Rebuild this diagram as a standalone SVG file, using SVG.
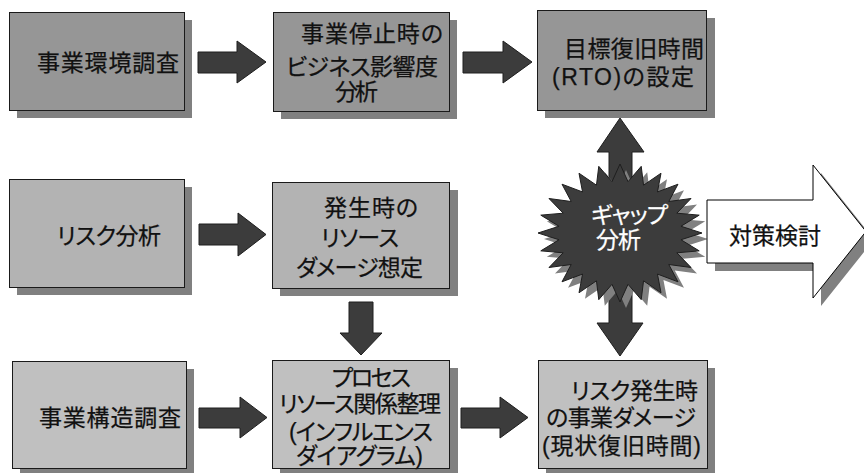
<svg xmlns="http://www.w3.org/2000/svg" width="864" height="473" viewBox="0 0 864 473">
<style>
.sh{fill:#808080}
.box{stroke:#1a1a1a;stroke-width:1}
.r1{fill:#969696}
.r2{fill:#b3b3b3}
.r3{fill:#c0c0c0}
.arr{fill:#3c3c3c;stroke:#1e1e1e;stroke-width:1}
text{font-family:"Liberation Sans","Noto Sans CJK JP",sans-serif;font-size:23px;font-weight:400;fill:#111;stroke:#111;stroke-width:0.25;font-feature-settings:"palt" 1}
.w{fill:#fff;stroke:#fff}
</style>
<defs>
<polygon id="star" points="620,164 628.03,181.69 641.22,166.35 643.54,185.19 661,173.24 657.44,191.94 677.98,184.21 668.79,201.5 691.01,198.5 676.82,213.2 699.21,215.14 680.97,226.25 702,233 680.97,239.75 699.21,250.86 676.82,252.8 691.01,267.5 668.79,264.5 677.98,281.79 657.44,274.06 661,292.76 643.54,280.81 641.22,299.65 628.03,284.31 620,302 611.97,284.31 598.78,299.65 596.46,280.81 579,292.76 582.56,274.06 562.02,281.79 571.21,264.5 548.99,267.5 563.18,252.8 540.79,250.86 559.03,239.75 538,233 559.03,226.25 540.79,215.14 563.18,213.2 548.99,198.5 571.21,201.5 562.02,184.21 582.56,191.94 579,173.24 596.46,185.19 598.78,166.35 611.97,181.69"/>
<polygon id="bigarrow" points="707,200 813,200 813,165 866,231.5 813,298 813,263 707,263"/>
</defs>

<g id="connectors">
<polygon class="arr" points="198,52 237,52 237,41 266,62 237,83 237,73 198,73"/>
<polygon class="arr" points="463,52 503,52 503,41 532,62 503,83 503,73 463,73"/>
<polygon class="arr" points="199,224 238,224 238,213 266,234.5 238,256 238,245 199,245"/>
<polygon class="arr" points="349,302 373,302 373,333 382,333 361,355 340,333 349,333"/>
<polygon class="arr" points="199,408 240,408 240,397 267,417.5 240,438 240,428 199,428"/>
<polygon class="arr" points="461,408 500,408 500,397 528,417.5 500,438 500,428 461,428"/>
<polygon class="arr" points="620,118 644,152 632,152 632,323 643,323 620,356 597,323 609,323 609,152 597,152"/>
</g>

<g id="n-kankyo">
<rect class="sh" x="17" y="20" width="175" height="98"/>
<rect class="box r1" x="9.5" y="12.5" width="175" height="98"/>
<text x="37" y="71" textLength="142" lengthAdjust="spacing">事業環境調査</text>
</g>

<g id="n-bia">
<rect class="sh" x="281" y="20" width="176" height="99"/>
<rect class="box r1" x="273.5" y="12.5" width="176" height="99"/>
<text x="301" y="42" textLength="142" lengthAdjust="spacing">事業停止時の</text>
<text x="286" y="75" textLength="152" lengthAdjust="spacing">ビジネス影響度</text>
<text x="335" y="100" textLength="43" lengthAdjust="spacing">分析</text>
</g>

<g id="n-rto">
<rect class="sh" x="545" y="18" width="170" height="100"/>
<rect class="box r1" x="537.5" y="10.5" width="169" height="100"/>
<text x="564" y="57" textLength="140" lengthAdjust="spacing">目標復旧時間</text>
<text x="552" y="85" textLength="142" lengthAdjust="spacing">(RTO)の設定</text>
</g>

<g id="n-risk">
<rect class="sh" x="17" y="187" width="175" height="108"/>
<rect class="box r2" x="9.5" y="179.5" width="175" height="108"/>
<text x="57" y="244" textLength="104" lengthAdjust="spacing">リスク分析</text>
</g>

<g id="n-damage">
<rect class="sh" x="280" y="190" width="178" height="106"/>
<rect class="box r2" x="272.5" y="182.5" width="177" height="106"/>
<text x="324" y="216" textLength="94" lengthAdjust="spacing">発生時の</text>
<text x="321" y="246" textLength="78" lengthAdjust="spacing">リソース</text>
<text x="296" y="276" textLength="127" lengthAdjust="spacing">ダメージ想定</text>
</g>

<g id="n-kouzou">
<rect class="sh" x="20" y="369" width="174" height="107"/>
<rect class="box r3" x="12.5" y="361.5" width="174" height="107"/>
<text x="39" y="426" textLength="142" lengthAdjust="spacing">事業構造調査</text>
</g>

<g id="n-process">
<rect class="sh" x="280" y="368" width="178" height="108"/>
<rect class="box r3" x="272.5" y="360.5" width="177" height="108"/>
<text x="332" y="386" textLength="79" lengthAdjust="spacing">プロセス</text>
<text x="279" y="412" textLength="162" lengthAdjust="spacing">リソース関係整理</text>
<text x="289" y="440" textLength="144" lengthAdjust="spacing">(インフルエンス</text>
<text x="296" y="464" textLength="127" lengthAdjust="spacing">ダイアグラム)</text>
</g>

<g id="n-current">
<rect class="sh" x="546" y="368" width="169" height="108"/>
<rect class="box r3" x="538.5" y="360.5" width="169" height="108"/>
<text x="571" y="399" textLength="127" lengthAdjust="spacing">リスク発生時</text>
<text x="546" y="426" textLength="150" lengthAdjust="spacing">の事業ダメージ</text>
<text x="542" y="454" textLength="159" lengthAdjust="spacing">(現状復旧時間)</text>
</g>

<g id="n-gap">
<use href="#star" class="sh" transform="translate(6,6)"/>
<use href="#star" fill="#3c3c3c" stroke="#1e1e1e" stroke-width="1"/>
<text class="w" x="591" y="223" textLength="77" lengthAdjust="spacing">ギャップ</text>
<text class="w" x="596" y="248" textLength="45" lengthAdjust="spacing">分析</text>
</g>

<g id="n-taisaku">
<use href="#bigarrow" class="sh" transform="translate(8,8)"/>
<use href="#bigarrow" fill="#fff" stroke="#000" stroke-width="1"/>
<text x="729" y="244" textLength="92" lengthAdjust="spacing">対策検討</text>
</g>
</svg>
